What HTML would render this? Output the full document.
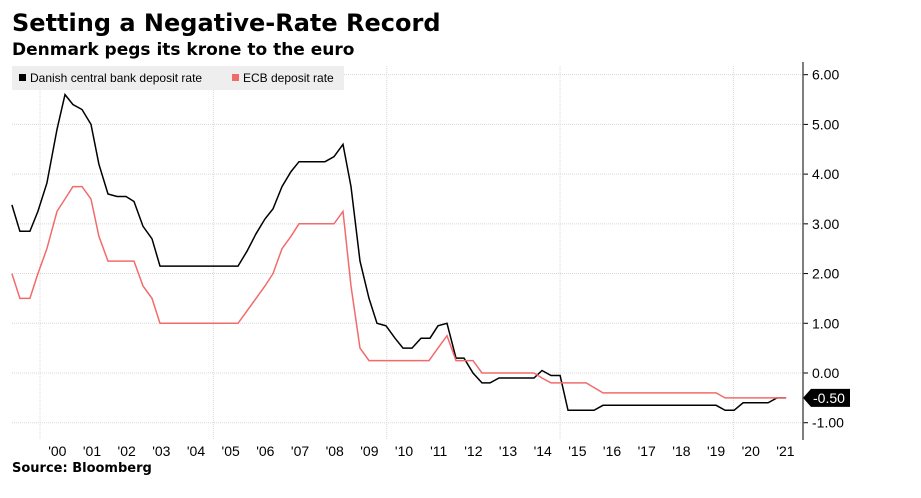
<!DOCTYPE html>
<html><head><meta charset="utf-8"><style>
body{margin:0;background:#fff;font-family:"Liberation Sans",sans-serif;}
svg{display:block}
.dv{font-family:"DejaVu Sans",sans-serif;}
</style></head><body>
<svg width="921" height="498" xmlns="http://www.w3.org/2000/svg">
<text class="dv" x="12" y="31" font-size="24" font-weight="bold" fill="#000">Setting a Negative-Rate Record</text>
<text class="dv" x="12" y="55" font-size="17" font-weight="bold" fill="#000">Denmark pegs its krone to the euro</text>
<g id="grid"></g>
<g>
<rect x="12" y="66" width="332" height="24" fill="#eeeeee"/>
<rect x="19" y="74" width="7" height="7" fill="#000"/>
<text x="30" y="82" font-size="12" fill="#000">Danish central bank deposit rate</text>
<rect x="232" y="74" width="7" height="7" fill="#f26b6b"/>
<text x="243" y="82" font-size="12" fill="#000">ECB deposit rate</text>
</g>
<g id="axes"></g>
<g id="series"></g>
<text class="dv" x="12" y="472" font-size="13" font-weight="bold" fill="#000">Source: Bloomberg</text>
</svg>
<script>
const danishDates=[1999.19,1999.42,1999.71,1999.94,2000.20,2000.49,2000.72,2000.95,2001.21,2001.47,2001.70,2001.96,2002.22,2002.48,2002.71,2002.97,2003.23,2003.46,2005.71,2005.97,2006.23,2006.49,2006.72,2006.98,2007.24,2007.47,2008.22,2008.48,2008.74,2008.97,2009.23,2009.49,2009.72,2009.98,2010.24,2010.47,2010.73,2010.99,2011.25,2011.48,2011.74,2012.00,2012.23,2012.49,2012.75,2012.98,2013.24,2014.25,2014.48,2014.74,2015.00,2015.23,2015.98,2016.24,2019.50,2019.76,2020.02,2020.28,2021.00,2021.26,2021.52];
const danishRates=[3.38,2.85,2.85,3.25,3.82,4.9,5.6,5.4,5.3,5.0,4.2,3.6,3.55,3.55,3.45,2.95,2.7,2.15,2.15,2.45,2.8,3.1,3.3,3.75,4.05,4.25,4.25,4.35,4.6,3.75,2.25,1.5,1.0,0.95,0.7,0.5,0.5,0.7,0.7,0.95,1.0,0.3,0.3,0.0,-0.2,-0.2,-0.1,-0.1,0.05,-0.05,-0.05,-0.75,-0.75,-0.65,-0.65,-0.75,-0.75,-0.6,-0.6,-0.5,-0.5];
const ecbDates=[1999.19,1999.42,1999.71,1999.94,2000.20,2000.49,2000.72,2000.95,2001.21,2001.47,2001.70,2001.96,2002.71,2002.97,2003.23,2003.46,2005.71,2005.97,2006.23,2006.49,2006.72,2006.98,2007.24,2007.47,2008.48,2008.74,2008.97,2009.23,2009.49,2011.22,2011.48,2011.74,2012.00,2012.49,2012.75,2014.25,2014.48,2014.74,2015.75,2016.24,2019.50,2019.76,2021.52];
const ecbRates=[2.0,1.5,1.5,2.0,2.5,3.25,3.5,3.75,3.75,3.5,2.75,2.25,2.25,1.75,1.5,1.0,1.0,1.25,1.5,1.75,2.0,2.5,2.75,3.0,3.0,3.25,1.75,0.5,0.25,0.25,0.5,0.75,0.25,0.25,0.0,0.0,-0.1,-0.2,-0.2,-0.4,-0.4,-0.5,-0.5];
const yTicks=[6,5,4,3,2,1,0,-1];
const yTickLabels=["6.00","5.00","4.00","3.00","2.00","1.00","0.00","-1.00"];
const xYears=[2000,2001,2002,2003,2004,2005,2006,2007,2008,2009,2010,2011,2012,2013,2014,2015,2016,2017,2018,2019,2020,2021];
const xLabels=["'00","'01","'02","'03","'04","'05","'06","'07","'08","'09","'10","'11","'12","'13","'14","'15","'16","'17","'18","'19","'20","'21"];
const lastValueLabel="-0.50";
const NS="http://www.w3.org/2000/svg";
const X0=12,X1=803;
function xs(t){return 40+(t-2000)*34.67;}
function ys(v){return 373-v*49.72;}
function mk(tag,attrs,parent,text){const e=document.createElementNS(NS,tag);for(const k in attrs)e.setAttribute(k,attrs[k]);if(text!==undefined)e.textContent=text;parent.appendChild(e);return e;}
const grid=document.getElementById('grid'),axes=document.getElementById('axes'),series=document.getElementById('series');
yTicks.forEach((v,i)=>{
  const l=mk('line',{x1:X0,x2:X1,y1:ys(v),y2:ys(v),stroke:'#d8d8d8','stroke-dasharray':'1,1'},grid);
  
  
  const tk=mk('line',{x1:X1,x2:X1+5,y1:ys(v),y2:ys(v),stroke:'#000'},axes);
  
  
  const t=mk('text',{x:X1+9,y:ys(v)+5,'font-size':14,fill:'#000'},axes,yTickLabels[i]);
  
  
});
[2000,2005,2010,2015,2020].forEach(yr=>{
  const l=mk('line',{x1:xs(yr),x2:xs(yr),y1:66,y2:440,stroke:'#d8d8d8','stroke-dasharray':'1,1'},grid);
  
  
});
xYears.forEach((yr,i)=>{
  const t=mk('text',{x:xs(yr+0.5),y:456,'font-size':14,fill:'#000','text-anchor':'middle'},axes,xLabels[i]);
  
  
});
const ax=mk('line',{x1:X1,x2:X1,y1:62,y2:440,stroke:'#555','stroke-width':1.5},axes);


function path(d,v){return d.map((t,i)=>(i?'L':'M')+xs(t).toFixed(1)+','+ys(v[i]).toFixed(1)).join('');}
const pd=mk('path',{d:path(danishDates,danishRates),fill:'none',stroke:'#000','stroke-width':1.5},series);


const pe=mk('path',{d:path(ecbDates,ecbRates),fill:'none',stroke:'#f26b6b','stroke-width':1.5},series);


const ly=ys(ecbRates[ecbRates.length-1]);
const tag=mk('path',{d:`M${X1},${ly} L${X1+8},${ly-9} L${X1+47},${ly-9} L${X1+47},${ly+9} L${X1+8},${ly+9} Z`,fill:'#000'},axes);


const tt=mk('text',{x:X1+10,y:ly+5,'font-size':14,fill:'#fff'},axes,lastValueLabel);


</script>
</body></html>
